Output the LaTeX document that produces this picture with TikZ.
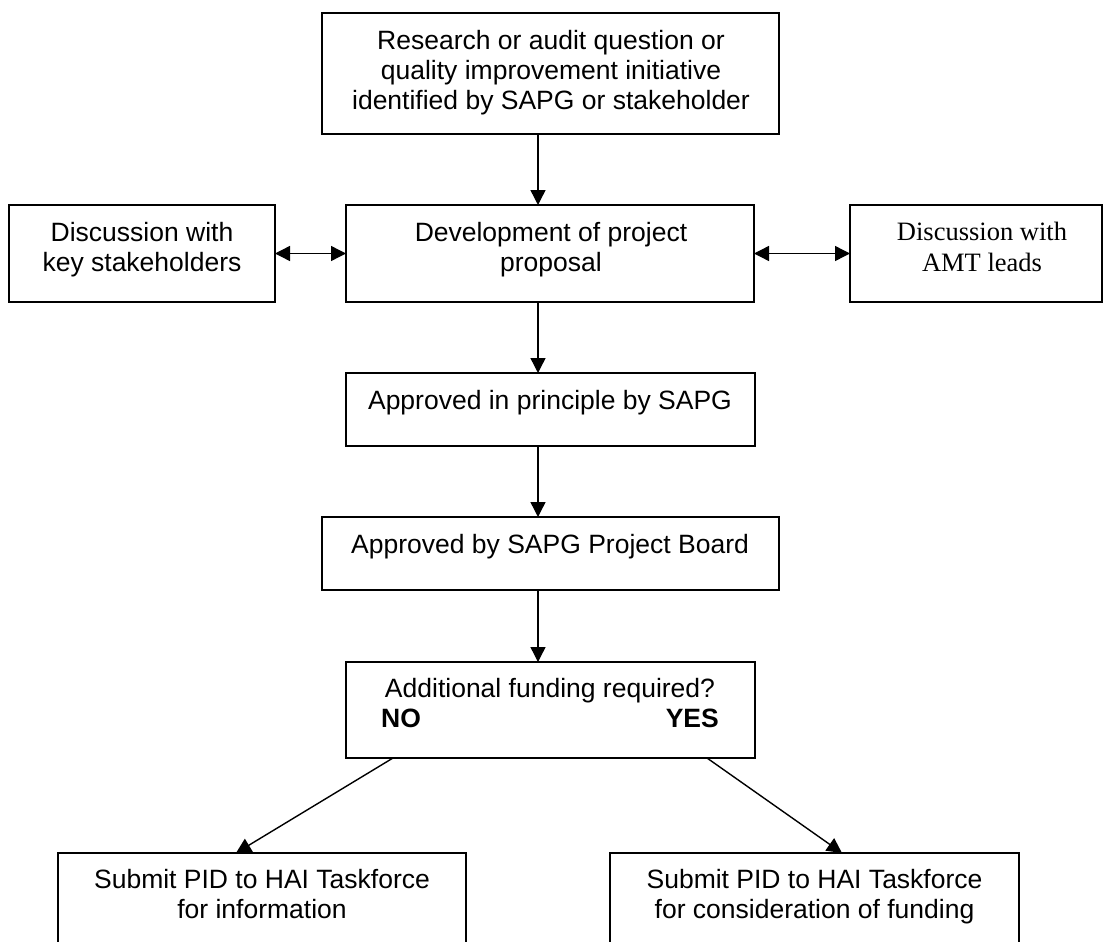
\documentclass[tikz,border=0pt]{standalone}
\usepackage{fontspec}
\setmainfont{Liberation Sans}
\newfontfamily\timesfont{Liberation Serif}
\usetikzlibrary{arrows.meta,fit}
\begin{document}
\begin{tikzpicture}[x=1pt,y=-1pt,
  box/.style={draw, line width=1.6pt, inner sep=0pt, outer sep=0pt},
  txt/.style={font=\fontsize{26.5}{30}\selectfont, inner sep=0pt, anchor=base},
  tip/.tip={Triangle[length=15pt,width=15pt]},
  arr/.style={line width=1.4pt, -tip},
  darr/.style={line width=1.4pt, tip-tip}]
\clip (0,0) rectangle (1103,942);
\fill[white] (0,0) rectangle (1103,942);
% boxes
\node[box, fit={(322,13) (779,134)}] (T) {};
\node[box, fit={(9,205) (275,302)}] (L) {};
\node[box, fit={(346,205) (754,302)}] (D) {};
\node[box, fit={(850,205) (1102,302)}] (R) {};
\node[box, fit={(346,373) (755,446)}] (P) {};
\node[box, fit={(322,517) (779,590)}] (B) {};
\node[box, fit={(346,662) (755,758)}] (F) {};
\node[box, fit={(58,853) (466,980)}] (BL) {};
\node[box, fit={(610,853) (1019,980)}] (BR) {};
% texts
\node[txt] (t1) at (551,50) {Research or audit question or};
\node[txt] (t2) at (551,80) {quality improvement initiative};
\node[txt] (t3) at (551,110) {identified by SAPG or stakeholder};
\node[txt] (l1) at (142,241) {Discussion with};
\node[txt] (l2) at (142,271) {key stakeholders};
\node[txt] (d1) at (551,241) {Development of project};
\node[txt] (d2) at (551,271) {proposal};
\node[txt, font=\timesfont\fontsize{26.5}{30}\selectfont] (r1) at (982,240) {Discussion with};
\node[txt, font=\timesfont\fontsize{26.5}{30}\selectfont] (r2) at (982,271) {AMT leads};
\node[txt] (p1) at (550,409) {Approved in principle by SAPG};
\node[txt] (b1) at (550,553) {Approved by SAPG Project Board};
\node[txt] (f1) at (550,697) {Additional funding required?};
\node[txt, anchor=base west, font=\bfseries\fontsize{26.5}{30}\selectfont] (no) at (381,727) {NO};
\node[txt, anchor=base east, font=\bfseries\fontsize{26.5}{30}\selectfont] (yes) at (719,727) {YES};
\node[txt] (bl1) at (262,888) {Submit PID to HAI Taskforce};
\node[txt] (bl2) at (262,918) {for information};
\node[txt] (br1) at (814.5,888) {Submit PID to HAI Taskforce};
\node[txt] (br2) at (814.5,918) {for consideration of funding};
% connector guides
\coordinate (ax) at (538,0);
\coordinate (nox) at (393,0);
\coordinate (nlx) at (236,0);
\coordinate (yox) at (707,0);
\coordinate (yrx) at (842,0);
% connectors
\draw[arr] (T.south -| ax) -- (D.north -| ax);
\draw[darr] (L.east) -- (D.west);
\draw[darr] (D.east) -- (R.west |- D.east);
\draw[arr] (D.south -| ax) -- (P.north -| ax);
\draw[arr] (P.south -| ax) -- (B.north -| ax);
\draw[arr] (B.south -| ax) -- (F.north -| ax);
\draw[arr] (F.south -| nox) -- (BL.north -| nlx);
\draw[arr] (F.south -| yox) -- (BR.north -| yrx);
\end{tikzpicture}
\end{document}
